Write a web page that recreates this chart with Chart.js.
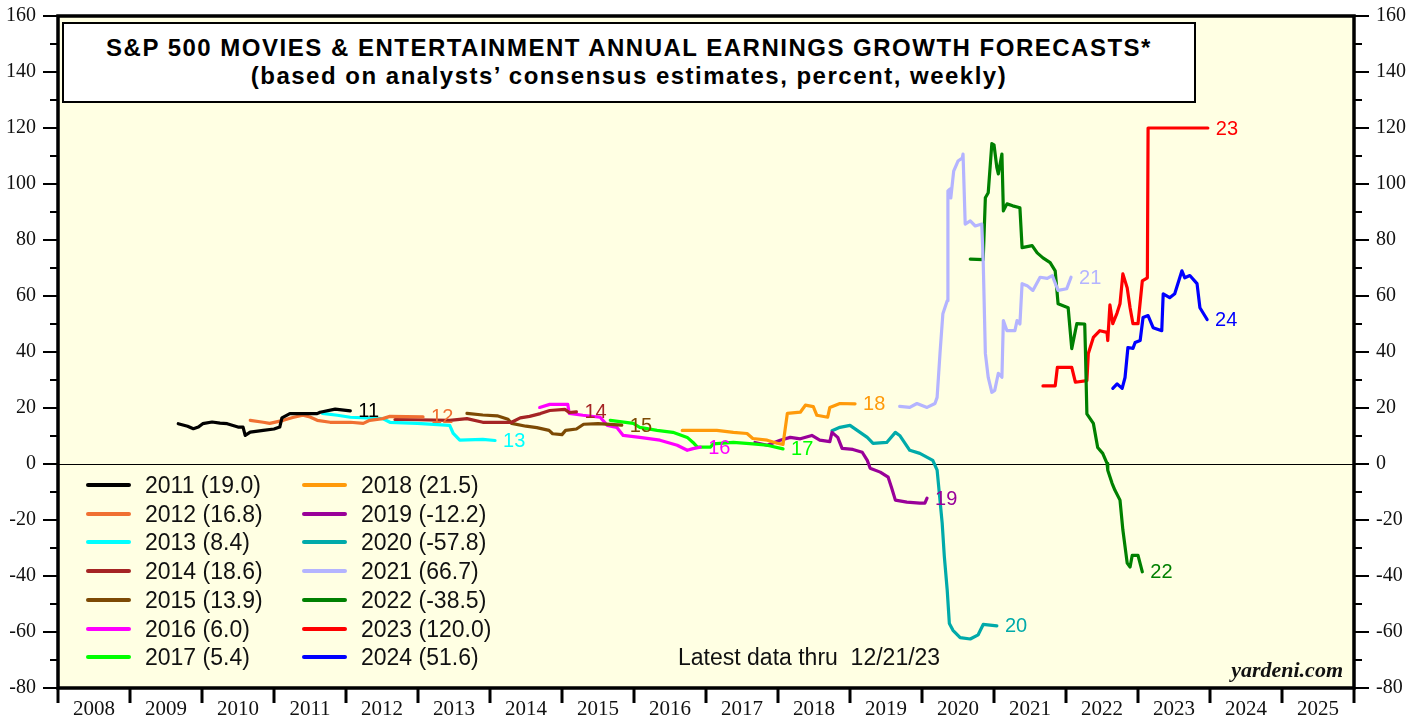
<!DOCTYPE html>
<html>
<head>
<meta charset="utf-8">
<title>S&amp;P 500 Movies &amp; Entertainment annual earnings growth forecasts</title>
<script src="https://cdn.jsdelivr.net/npm/chart.js@4.4.0/dist/chart.umd.min.js"></script>
<style>
  body { margin: 0; background: #fff; overflow: hidden; }
  #wrap { position: relative; width: 1424px; height: 717px; }
  #titlebox {
    position: absolute; left: 62px; top: 22px; width: 1130px; height: 67px;
    padding-top: 10px; border: 2px solid #000; background: #fff;
    font: bold 24px "Liberation Sans", Arial, sans-serif; letter-spacing: 1.5px;
    text-align: center; line-height: 28px; color: #000;
  }
  .leg { position: absolute; font: 23px "Liberation Sans", Arial, sans-serif; color: #111; white-space: pre; line-height: 26px; }
  .legline { position: absolute; height: 4px; border-radius: 2px; }
  #latest { position: absolute; left: 678px; top: 644px; font: 23px "Liberation Sans", Arial, sans-serif; color: #111; white-space: pre; }
  #brand { position: absolute; right: 81px; top: 657px; font: italic bold 22px "Liberation Serif", "Times New Roman", serif; color: #111; }
</style>
</head>
<body>
<div id="wrap">
  <canvas id="chart" width="1424" height="717"></canvas>
  <div id="titlebox">S&amp;P 500 MOVIES &amp; ENTERTAINMENT ANNUAL EARNINGS GROWTH FORECASTS*<br>(based on analysts’ consensus estimates, percent, weekly)</div>
  <div id="latest">Latest data thru  12/21/23</div>
  <div id="brand">yardeni.com</div>
</div>
<script>
// forecast years and what the legend shows as the latest value
var years = ['2011','2012','2013','2014','2015','2016','2017','2018','2019','2020','2021','2022','2023','2024'];
var legendValues = ['19.0','16.8','8.4','18.6','13.9','6.0','5.4','21.5','-12.2','-57.8','66.7','-38.5','120.0','51.6'];
var endLabels = ['11','12','13','14','15','16','17','18','19','20','21','22','23','24'];
var colors = ['#000000','#f07032','#00ffff','#a52424','#7d4a04','#ff00ff','#00ff00','#ff9a0a','#990099','#00aaaa','#b4b4ff','#008000','#ff0000','#0000ff'];

// weekly consensus (sampled): [date as fractional year, percent]
var s2011 = [[2009.67,14.4],[2009.8,13.5],[2009.88,12.6],[2009.95,13.2],[2010.01,14.4],[2010.14,15.0],[2010.25,14.6],[2010.35,14.4],[2010.5,13.2],[2010.57,13.2],[2010.6,10.2],[2010.67,11.4],[2010.85,12.0],[2011.0,12.5],[2011.08,13.2],[2011.11,16.5],[2011.22,18.0],[2011.6,18.0],[2011.64,18.5],[2011.85,19.6],[2012.06,19.0]];
var s2012 = [[2010.67,15.6],[2010.85,14.9],[2010.94,14.5],[2011.13,15.6],[2011.26,16.6],[2011.4,17.4],[2011.5,16.8],[2011.6,15.6],[2011.78,14.9],[2012.06,14.9],[2012.24,14.5],[2012.33,15.6],[2012.51,16.2],[2012.61,17.0],[2013.07,16.8]];
var s2013 = [[2011.67,18.1],[2011.88,17.4],[2012.06,16.7],[2012.51,16.2],[2012.61,14.9],[2012.99,14.5],[2013.44,13.8],[2013.49,10.9],[2013.58,8.5],[2013.9,8.8],[2014.07,8.4]];
var s2014 = [[2012.68,15.9],[2013.0,15.8],[2013.44,15.6],[2013.68,16.2],[2013.9,14.9],[2014.3,14.9],[2014.42,16.5],[2014.55,17.0],[2014.7,18.0],[2014.83,19.1],[2015.04,19.5],[2015.1,18.4],[2015.2,18.6]];
var s2015 = [[2013.68,18.1],[2013.9,17.5],[2014.1,17.2],[2014.25,16.0],[2014.3,14.5],[2014.5,13.5],[2014.65,13.0],[2014.82,12.0],[2014.87,10.8],[2015.0,10.5],[2015.05,12.0],[2015.2,12.5],[2015.3,14.2],[2015.5,14.4],[2015.83,13.9]];
var s2016 = [[2014.69,20.2],[2014.83,21.3],[2015.08,21.3],[2015.1,18.1],[2015.29,17.4],[2015.53,16.7],[2015.63,13.8],[2015.76,13.1],[2015.85,10.2],[2016.08,9.5],[2016.36,8.5],[2016.6,6.7],[2016.74,4.9],[2016.82,5.5],[2016.92,6.0]];
var s2017 = [[2015.67,15.6],[2015.99,14.5],[2016.08,13.1],[2016.32,12.0],[2016.54,11.3],[2016.74,9.5],[2016.82,7.7],[2016.88,6.0],[2017.06,6.0],[2017.1,7.2],[2017.38,7.7],[2017.65,7.2],[2017.85,6.7],[2018.07,5.4]];
var s2018 = [[2016.67,12.0],[2017.15,12.0],[2017.38,11.3],[2017.57,10.9],[2017.65,9.1],[2017.85,8.5],[2017.99,7.4],[2018.07,7.0],[2018.13,18.1],[2018.31,18.5],[2018.38,21.0],[2018.49,20.5],[2018.54,17.4],[2018.69,16.7],[2018.72,20.2],[2018.86,21.6],[2019.07,21.5]];
var s2019 = [[2017.68,7.7],[2017.85,6.7],[2018.03,8.5],[2018.17,9.5],[2018.31,9.0],[2018.47,10.2],[2018.58,8.5],[2018.72,8.0],[2018.75,11.3],[2018.83,9.5],[2018.89,5.6],[2019.04,5.2],[2019.17,4.2],[2019.24,1.3],[2019.28,-1.5],[2019.42,-2.9],[2019.53,-4.7],[2019.58,-8.7],[2019.63,-12.9],[2019.79,-13.6],[2019.97,-14.0],[2020.04,-14.0],[2020.07,-12.2]];
var s2020 = [[2018.75,11.9],[2018.86,13.1],[2019.0,13.8],[2019.14,11.3],[2019.24,9.5],[2019.32,7.4],[2019.51,7.7],[2019.63,11.3],[2019.69,10.2],[2019.83,4.9],[2019.97,3.8],[2020.15,1.3],[2020.21,-2.2],[2020.28,-21],[2020.31,-33],[2020.35,-45],[2020.38,-57],[2020.43,-59.4],[2020.53,-62],[2020.67,-62.5],[2020.78,-61],[2020.85,-57.3],[2021.04,-57.8]];
var s2021 = [[2019.69,20.6],[2019.83,20.2],[2019.93,21.6],[2020.07,20.2],[2020.18,21.6],[2020.21,23.8],[2020.25,39.5],[2020.29,53.7],[2020.35,58.3],[2020.36,97.5],[2020.39,98.2],[2020.4,95],[2020.44,104.6],[2020.5,108.2],[2020.56,109.3],[2020.57,110.7],[2020.6,85.7],[2020.67,86.8],[2020.74,85],[2020.83,85.7],[2020.85,72.6],[2020.88,39.5],[2020.92,30.9],[2020.97,25.6],[2021.01,26.3],[2021.06,32.4],[2021.11,31],[2021.13,51.2],[2021.18,47.6],[2021.29,47.6],[2021.32,51.2],[2021.36,50],[2021.39,64.4],[2021.46,63.7],[2021.54,62],[2021.64,66.7],[2021.74,66.3],[2021.81,67.3],[2021.89,62],[2022.01,62.6],[2022.07,66.7]];
var s2022 = [[2020.67,73.2],[2020.85,73.0],[2020.88,95.1],[2020.92,96.9],[2020.97,114.4],[2021.0,114.0],[2021.04,105.8],[2021.06,103.6],[2021.11,110.7],[2021.13,90.4],[2021.18,92.9],[2021.26,92.2],[2021.36,91.5],[2021.39,77.3],[2021.53,78],[2021.6,75.4],[2021.68,73.6],[2021.78,71.9],[2021.85,69],[2021.89,57.2],[2022.03,55.8],[2022.08,41.2],[2022.15,50.1],[2022.26,50.0],[2022.27,40.4],[2022.29,17.9],[2022.38,14.5],[2022.44,5.9],[2022.51,3.8],[2022.57,0.2],[2022.58,-2.2],[2022.64,-6.9],[2022.68,-9.4],[2022.75,-12.9],[2022.79,-23.6],[2022.85,-35.4],[2022.89,-36.8],[2022.92,-32.6],[2023.0,-32.6],[2023.06,-38.5]];
var s2023 = [[2021.68,27.9],[2021.85,27.9],[2021.88,34.5],[2022.08,34.5],[2022.13,29.2],[2022.29,29.8],[2022.31,39.5],[2022.38,45.2],[2022.47,47.6],[2022.57,47.0],[2022.58,44.1],[2022.61,56.8],[2022.65,50.1],[2022.71,54.0],[2022.75,57.2],[2022.79,67.9],[2022.85,62.9],[2022.89,55.8],[2022.93,50.1],[2023.0,50.1],[2023.06,65.4],[2023.13,66.5],[2023.14,120.0],[2023.97,120.0]];
var s2024 = [[2022.65,27],[2022.71,28.6],[2022.78,27],[2022.82,30.9],[2022.86,41.6],[2022.93,41.3],[2022.96,43.4],[2023.03,44.1],[2023.07,52.3],[2023.14,53],[2023.21,48.7],[2023.33,47.6],[2023.35,60.8],[2023.44,59.4],[2023.51,60.8],[2023.61,69],[2023.65,66.5],[2023.72,67.3],[2023.82,64.4],[2023.86,55.8],[2023.96,51.6]];

var allSeries = [s2011,s2012,s2013,s2014,s2015,s2016,s2017,s2018,s2019,s2020,s2021,s2022,s2023,s2024];

// axis ticks
var yearTicks = [2008,2009,2010,2011,2012,2013,2014,2015,2016,2017,2018,2019,2020,2021,2022,2023,2024,2025,2026];
var yMin = -80, yMax = 160;

// legend (html, drawn over the plot)
var wrap = document.getElementById('wrap');
years.forEach(function(yr, i){
  var col = i < 7 ? 0 : 1;
  var row = i % 7;
  var cy = 485 + row * 28.7;
  var lx = col == 0 ? 86 : 302;
  var ln = document.createElement('div');
  ln.className = 'legline';
  ln.style.left = lx + 'px'; ln.style.top = (cy - 2) + 'px'; ln.style.width = '45px';
  ln.style.background = colors[i];
  wrap.appendChild(ln);
  var tx = document.createElement('div');
  tx.className = 'leg';
  tx.style.left = (lx + 59) + 'px'; tx.style.top = (cy - 13) + 'px';
  tx.textContent = yr + ' (' + legendValues[i] + ')';
  wrap.appendChild(tx);
});

var decor = {
  id: 'decor',
  beforeDraw: function(chart){
    var c = chart.ctx, a = chart.chartArea;
    c.save();
    c.fillStyle = '#ffffe3';
    c.fillRect(a.left, a.top, a.right - a.left, a.bottom - a.top);
    c.restore();
  },
  afterDatasetsDraw: function(chart){
    var c = chart.ctx;
    c.save();
    c.font = '20px "Liberation Sans", Arial, sans-serif';
    c.textBaseline = 'middle';
    chart.data.datasets.forEach(function(ds, i){
      var last = ds.data[ds.data.length - 1];
      var px = chart.scales.x.getPixelForValue(last.x);
      var py = chart.scales.y.getPixelForValue(last.y);
      c.fillStyle = colors[i];
      c.fillText(endLabels[i], px + 8, py + 1);
    });
    c.restore();
  },
  afterDraw: function(chart){
    var c = chart.ctx, a = chart.chartArea, ys = chart.scales.y, xs = chart.scales.x;
    c.save();
    c.strokeStyle = '#000';
    c.lineWidth = 2;
    for (var v = yMin; v <= yMax; v += 10) {
      var py = Math.round(ys.getPixelForValue(v));
      var len = (v % 20 == 0) ? 15 : 8;
      c.beginPath();
      c.moveTo(a.left - len, py); c.lineTo(a.left, py);
      c.moveTo(a.right, py); c.lineTo(a.right + len, py);
      c.stroke();
    }
    c.lineWidth = 3;
    yearTicks.forEach(function(t){
      var px = Math.round(xs.getPixelForValue(t));
      c.beginPath();
      c.moveTo(px, a.bottom); c.lineTo(px, a.bottom + 15);
      c.stroke();
    });
    c.lineWidth = 3.5;
    c.strokeRect(a.left, a.top, a.right - a.left, a.bottom - a.top);
    c.restore();
  }
};

var serif = '"Liberation Serif", "Times New Roman", serif';
var ctx = document.getElementById('chart').getContext('2d');
var myChart = new Chart(ctx, {
  type: 'line',
  data: {
    datasets: allSeries.map(function(s, i){
      return {
        label: years[i],
        data: s.map(function(p){ return {x: p[0], y: p[1]}; }),
        borderColor: colors[i],
        borderWidth: 3.2,
        pointRadius: 0,
        tension: 0,
        borderJoinStyle: 'round',
        borderCapStyle: 'round',
        fill: false
      };
    })
  },
  options: {
    responsive: false,
    devicePixelRatio: 1,
    animation: false,
    layout: { padding: 0 },
    plugins: { legend: { display: false }, title: { display: false }, tooltip: { enabled: false } },
    scales: {
      x: {
        type: 'linear',
        min: 2008, max: 2026,
        afterBuildTicks: function(sc){
          sc.ticks = yearTicks.slice(0, -1).map(function(t){ return {value: t + 0.5}; });
        },
        afterFit: function(sc){ sc.height = 29; },
        grid: { display: false, drawTicks: false },
        border: { display: false },
        ticks: {
          autoSkip: false, maxRotation: 0, padding: 9, color: '#111',
          font: { family: serif, size: 21 },
          callback: function(v){ return String(Math.floor(v)); }
        }
      },
      y: {
        position: 'left',
        min: yMin, max: yMax,
        afterFit: function(sc){ sc.width = 58; },
        grid: {
          drawTicks: true, tickLength: 18, tickColor: 'rgba(0,0,0,0)',
          color: function(c){ return c.tick && c.tick.value === 0 ? '#000' : 'rgba(0,0,0,0)'; },
          lineWidth: 1
        },
        border: { display: false },
        ticks: { stepSize: 20, padding: 4, color: '#111', font: { family: serif, size: 20 } }
      },
      y2: {
        position: 'right',
        min: yMin, max: yMax,
        afterFit: function(sc){ sc.width = 70; },
        grid: { drawOnChartArea: false, drawTicks: true, tickLength: 18, tickColor: 'rgba(0,0,0,0)' },
        border: { display: false },
        ticks: { stepSize: 20, padding: 4, color: '#111', font: { family: serif, size: 20 } }
      }
    }
  },
  plugins: [decor]
});
</script>
</body>
</html>
